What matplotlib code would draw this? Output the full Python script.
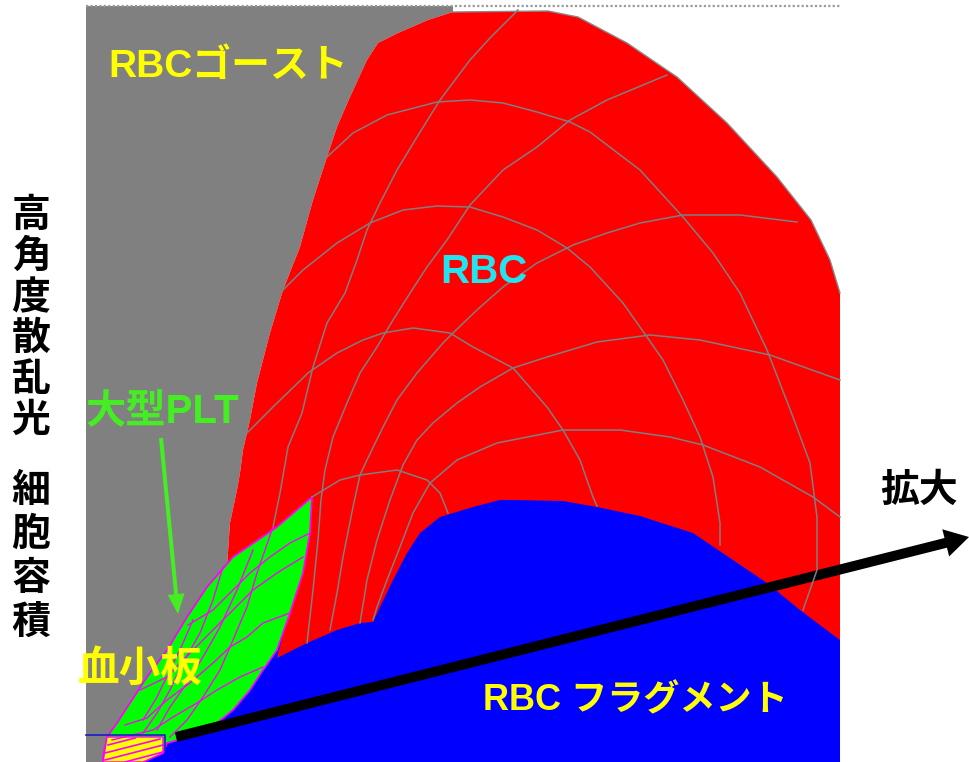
import matplotlib
matplotlib.use("Agg")
import matplotlib.pyplot as plt
from matplotlib.patches import Polygon, FancyArrow

# everything in pixel units (x right, y down)
W, H = 969, 762
FONT = ["Liberation Sans", "Noto Sans CJK JP"]

plot_left, plot_right, plot_top, plot_bottom = 86, 840, 6, 762

# red / gray border (left side, top -> bottom)
red_left = [(453, 12), (428, 20), (398, 33), (378, 43), (367, 60), (350, 97),
            (337, 127), (327, 157), (313, 200), (300, 247), (283, 290),
            (270, 333), (257, 383), (250, 420), (243, 450), (240, 473),
            (237, 490), (230, 523), (227, 567)]
# red / white border (top and right side)
red_right = [(453, 12), (548, 11), (578, 17), (627, 43), (677, 77), (727, 123),
             (777, 177), (811, 220), (830, 260), (840, 293)]

green_right = [(312, 497), (310, 533), (303, 573), (290, 613), (277, 650),
               (263, 670), (250, 690), (233, 710), (217, 723), (190, 737),
               (167, 743), (163, 753), (143, 762)]
green_left = [(103, 762), (103, 757), (107, 737), (117, 723), (130, 703),
              (147, 677), (167, 650), (187, 617), (207, 587), (233, 557),
              (277, 527), (312, 497)]

blue_top = [(277, 658), (307, 643), (337, 630), (360, 623), (373, 622),
            (380, 607), (393, 580), (407, 553), (420, 533), (440, 517),
            (473, 507), (500, 500), (513, 500), (563, 501), (597, 507),
            (640, 516), (693, 533), (733, 560), (767, 583), (800, 610),
            (840, 640)]

platelet_box = [(107, 737), (163, 737), (163, 753), (143, 762), (103, 762)]

# gray mesh lines inside the RBC area
red_lines = {
    "A1": [(327, 157), (353, 133), (387, 115), (437, 102), (470, 100), (503, 103),
           (537, 112), (570, 122), (590, 132), (640, 170), (683, 217), (713, 253),
           (740, 293), (767, 350), (793, 417), (810, 463), (817, 517), (817, 570),
           (803, 610)],
    "A2": [(283, 290), (303, 270), (337, 243), (370, 223), (403, 210), (437, 206),
           (470, 207), (503, 217), (537, 230), (567, 248), (590, 267), (623, 303),
           (647, 337), (663, 360), (683, 400), (700, 437), (713, 477), (720, 523),
           (720, 545)],
    "A3": [(247, 433), (273, 407), (308, 373), (337, 353), (363, 340), (383, 333),
           (413, 328), (450, 333), (473, 347), (513, 368), (547, 407), (563, 430),
           (580, 460), (593, 497), (597, 506)],
    "A4": [(312, 497), (340, 480), (360, 475), (397, 470), (427, 480), (440, 493),
           (448, 513)],
    "L1": [(518, 10), (490, 38), (470, 60), (440, 100), (417, 137), (397, 170),
           (380, 203), (367, 230), (357, 260), (345, 293), (327, 323), (313, 367),
           (302, 413), (288, 447), (280, 493), (273, 527)],
    "L2": [(667, 75), (607, 100), (570, 120), (537, 147), (503, 170), (470, 205),
           (447, 240), (427, 267), (412, 290), (393, 320), (377, 347), (360, 373),
           (347, 403), (333, 437), (325, 470), (321, 500), (318, 540), (313, 590),
           (307, 643)],
    "P3": [(797, 222), (740, 215), (683, 215), (640, 223), (607, 233), (573, 245),
           (537, 263), (503, 287), (477, 310), (453, 333), (443, 343), (417, 373),
           (397, 400), (383, 427), (367, 460), (360, 475), (353, 507), (343, 557),
           (337, 593), (330, 630)],
    "P4": [(840, 380), (770, 355), (700, 340), (650, 335), (597, 342), (547, 357),
           (513, 368), (480, 387), (457, 403), (433, 423), (417, 440), (403, 465),
           (390, 500), (377, 540), (367, 580), (360, 623)],
    "P5": [(840, 517), (813, 497), (760, 467), (703, 445), (670, 437), (620, 430),
           (563, 430), (497, 443), (457, 460), (430, 483), (413, 513), (400, 547),
           (387, 580), (377, 607), (373, 620)],
}

# magenta mesh lines inside the platelet area
green_lines = {
    "R1": [(188, 625), (213, 610), (233, 590), (250, 573), (270, 557), (290, 543),
           (310, 533)],
    "R2": [(140, 690), (167, 677), (190, 653), (213, 630), (233, 610), (253, 590),
           (277, 573), (303, 557)],
    "R3": [(125, 725), (147, 718), (167, 700), (190, 683), (213, 663), (230, 647),
           (247, 637), (263, 623), (290, 613)],
    "R4": [(112, 740), (153, 730), (173, 717), (197, 703), (217, 690), (240, 677),
           (263, 667)],
    "S1": [(273, 527), (257, 573), (247, 607), (233, 640), (220, 670), (203, 697),
           (187, 720), (170, 737)],
    "S2": [(253, 550), (237, 590), (220, 627), (203, 657), (187, 683), (170, 707),
           (157, 730)],
    "S3": [(223, 567), (213, 600), (200, 633), (183, 663), (170, 690), (157, 713),
           (143, 733)],
    "S4": [(193, 620), (183, 643), (170, 670), (157, 697), (143, 720)],
}

box_hatch = [[(108, 745), (135, 738)], [(105, 753), (160, 739)],
             [(105, 760), (163, 745)], [(125, 762), (163, 752)]]

# labels: text, left x, center y, colour, size
labels = [
    ("RBCゴースト", 108, 67, "#ffff00", 28),
    ("RBC", 440, 272, "#22e4ee", 29),
    ("大型PLT", 86, 412, "#44ee22", 29),
    ("血小板", 78, 670, "#ffff00", 30),
    ("RBC フラグメント", 483, 701, "#ffff00", 26),
    ("拡大", 880, 492, "#000000", 28),
]
axis_upper = ["高", "角", "度", "散", "乱", "光"]
axis_lower = ["細", "胞", "容", "積"]

fig = plt.figure(figsize=(W / 100, H / 100), dpi=100)
ax = fig.add_axes([0, 0, 1, 1])
ax.set_xlim(0, W)
ax.set_ylim(H, 0)
ax.axis("off")

# gray ghost area
gray_poly = [(plot_left, plot_top), (453, plot_top)] + red_left + green_left[::-1] + \
    [(plot_left, plot_bottom)]
ax.add_patch(Polygon(gray_poly, closed=True, fc="#808080", ec="none"))

# red RBC area
red_poly = red_left[::-1] + red_right[1:] + [(plot_right, plot_bottom), (143, plot_bottom)]
ax.add_patch(Polygon(red_poly, closed=True, fc="#ff0000", ec="none"))
rx, ry = zip(*red_right)
ax.plot(rx, ry, color="#8a8a8a", lw=1.0)

for pts in red_lines.values():
    xs, ys = zip(*pts)
    ax.plot(xs, ys, color="#7f7f7f", lw=1.1)

# blue fragment area
blue_poly = blue_top + [(plot_right, plot_bottom)] + green_right[::-1][:-1] + [(277, 658)]
ax.add_patch(Polygon(blue_poly, closed=True, fc="#0000ff", ec="none"))

# green platelet area
green_poly = green_right + green_left
ax.add_patch(Polygon(green_poly, closed=True, fc="#00ff00", ec="#ff00ff", lw=1.3))
for pts in green_lines.values():
    xs, ys = zip(*pts)
    ax.plot(xs, ys, color="#ff00ff", lw=1.0)

ax.add_patch(Polygon(platelet_box, closed=True, fc="#ffff00", ec="#ff00ff", lw=1.0))
for seg in box_hatch:
    xs, ys = zip(*seg)
    ax.plot(xs, ys, color="#ff00ff", lw=1.2)
ax.plot([plot_left, 165, 165], [735, 735, 750], color="#1a1acc", lw=1.2)

# dotted frame line along the top
ax.plot([plot_left, plot_right], [plot_top, plot_top], color="#9a9a9a", lw=1.6,
        ls=(0, (1, 1)))

# arrows
ax.add_patch(FancyArrow(161, 438, 17, 176, width=4, head_width=17, head_length=20,
                        length_includes_head=True, color="#44ee22", ec="none"))
ax.add_patch(FancyArrow(176, 737, 793, -200, width=10, head_width=28, head_length=24,
                        length_includes_head=True, color="#000000", ec="none"))

for s, x, y, c, size in labels:
    ax.text(x, y, s, color=c, fontsize=size, fontweight="bold", family=FONT,
            ha="left", va="center")

for i, ch in enumerate(axis_upper):
    ax.text(31, 217 + 41 * i, ch, fontsize=28, fontweight="bold", family=FONT,
            ha="center", va="center")
for i, ch in enumerate(axis_lower):
    ax.text(31, 492 + 44 * i, ch, fontsize=28, fontweight="bold", family=FONT,
            ha="center", va="center")

fig.savefig("out.png", dpi=100)
